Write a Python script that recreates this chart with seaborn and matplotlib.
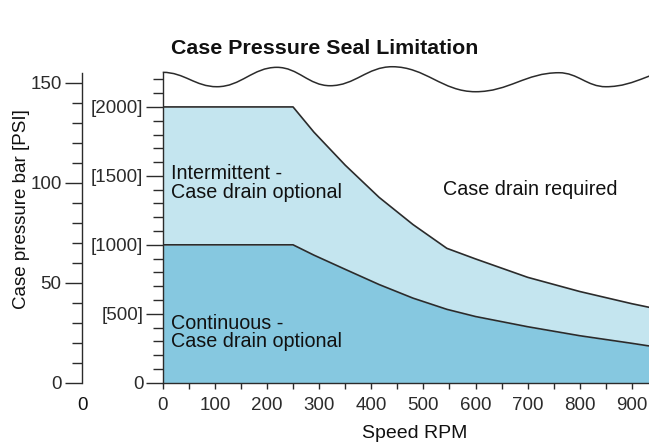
import matplotlib
matplotlib.use("Agg")
import matplotlib.pyplot as plt
from matplotlib.path import Path
from matplotlib.patches import PathPatch
from matplotlib.ticker import FixedLocator, MultipleLocator
import pandas as pd
import seaborn as sns

PSI_PER_BAR = 14.5038

# Seal limit curves (speed in RPM, case pressure in bar)
speed_rpm = [0, 250, 290, 350, 415, 480, 545, 600, 700, 800, 900, 935]
intermittent_bar = [137.9, 137.9, 125.3, 108.8, 92.7, 79.1, 67.2, 61.9, 52.7, 45.6, 39.5, 37.6]
continuous_bar = [68.95, 68.95, 63.8, 56.7, 49.1, 42.3, 36.7, 33.1, 28.0, 23.5, 19.7, 18.3]

# Axis ticks
bar_ticks = [0, 50, 100, 150]
psi_ticks = [0, 500, 1000, 1500, 2000]
psi_labels = ["0", "[500]", "[1000]", "[1500]", "[2000]"]
psi_minor = [100, 200, 300, 400, 600, 700, 800, 900, 1100, 1200, 1300, 1400,
             1600, 1700, 1800, 1900, 2100, 2200]
rpm_ticks = [0, 100, 200, 300, 400, 500, 600, 700, 800, 900]

# Wavy break line along the open top of the chart
break_rpm = [0, 104, 219, 321, 440, 600, 760, 850, 1000]
break_bar = [155.2, 148.0, 157.7, 148.5, 158.0, 145.5, 155.0, 148.0, 157.0]

DARK = "#86c8e0"
LIGHT = "#c4e5ef"
INK = "#2b2b2b"
FS = 13.5
FS_NOTE = 14.2

sns.set_style("ticks", {"axes.edgecolor": INK, "xtick.color": INK, "ytick.color": INK,
                        "text.color": "#111111", "axes.labelcolor": "#111111"})
plt.rcParams["font.family"] = ["Liberation Sans", "DejaVu Sans"]
plt.rcParams["axes.linewidth"] = 1.0

fig = plt.figure(figsize=(6.49, 4.44), dpi=100)
ax = fig.add_axes([0.2507, 0.138, 0.7493, 0.6982])

df = pd.DataFrame({"rpm": speed_rpm, "intermittent": intermittent_bar,
                   "continuous": continuous_bar})

ax.fill_between(df["rpm"], 0, df["continuous"], color=DARK, lw=0, zorder=1)
ax.fill_between(df["rpm"], df["continuous"], df["intermittent"], color=LIGHT, lw=0, zorder=1)
sns.lineplot(data=df, x="rpm", y="intermittent", ax=ax, color=INK, lw=1.2, zorder=2)
sns.lineplot(data=df, x="rpm", y="continuous", ax=ax, color=INK, lw=1.2, zorder=2)

# break line as smooth cubic segments between crests and troughs
pts = list(zip(break_rpm, break_bar))
verts = [pts[0]]
codes = [Path.MOVETO]
for (x0, y0), (x1, y1) in zip(pts[:-1], pts[1:]):
    dx = (x1 - x0) * 0.4
    verts += [(x0 + dx, y0), (x1 - dx, y1), (x1, y1)]
    codes += [Path.CURVE4] * 3
ax.add_patch(PathPatch(Path(verts, codes), fill=False, ec=INK, lw=1.1,
                       clip_on=False, transform=ax.transData))

ax.set_xlim(0, 932.7)
ax.set_ylim(0, 155)
sns.despine(ax=ax)
ax.set_xlabel("")
ax.set_ylabel("")

# x axis
ax.set_xticks(rpm_ticks)
ax.set_xticklabels([str(v) for v in rpm_ticks])
ax.xaxis.set_minor_locator(MultipleLocator(50))
ax.tick_params(axis="x", which="both", direction="out", length=4.5, width=1.0,
               pad=5.5, labelsize=FS)

# inner axis: PSI
ax.yaxis.set_major_locator(FixedLocator([p / PSI_PER_BAR for p in psi_ticks]))
ax.set_yticklabels(psi_labels)
ax.yaxis.set_minor_locator(FixedLocator([p / PSI_PER_BAR for p in psi_minor]))
ax.tick_params(axis="y", which="major", direction="out", length=12, width=1.0,
               pad=2, labelsize=FS)
ax.tick_params(axis="y", which="minor", direction="out", length=7.5, width=1.0)

# outer axis: bar
sec = ax.secondary_yaxis(-0.165)
sec.set_yticks(bar_ticks)
sec.set_yticklabels([str(v) for v in bar_ticks])
sec.yaxis.set_minor_locator(MultipleLocator(10))
sec.tick_params(axis="y", which="major", direction="out", length=12, width=1.0,
                pad=3, labelsize=FS)
sec.tick_params(axis="y", which="minor", direction="out", length=7.5, width=1.0)
sec.spines["left"].set_linewidth(1.0)

ax.annotate("0", xy=(-0.165, 0), xycoords="axes fraction", xytext=(0, -10),
            textcoords="offset points", ha="center", va="top", fontsize=FS, color="#111111")

# region labels
ax.text(16, 102.0, "Intermittent -", fontsize=FS_NOTE, va="baseline", ha="left")
ax.text(16, 92.3, "Case drain optional", fontsize=FS_NOTE, va="baseline", ha="left")
ax.text(16, 26.8, "Continuous -", fontsize=FS_NOTE, va="baseline", ha="left")
ax.text(16, 17.9, "Case drain optional", fontsize=FS_NOTE, va="baseline", ha="left")
ax.text(537, 93.9, "Case drain required", fontsize=FS_NOTE, va="baseline", ha="left")

fig.text(415 / 649, 1 - 433 / 444, "Speed RPM", fontsize=14, ha="center", va="center")
fig.text(22 / 649, 1 - 209 / 444, "Case pressure bar [PSI]", fontsize=FS,
         rotation=90, ha="center", va="center")
fig.text(0.5, 1 - 48 / 444, "Case Pressure Seal Limitation", fontsize=15.4,
         fontweight="bold", ha="center", va="center", color="#111111")

fig.savefig("out.png", dpi=100)
